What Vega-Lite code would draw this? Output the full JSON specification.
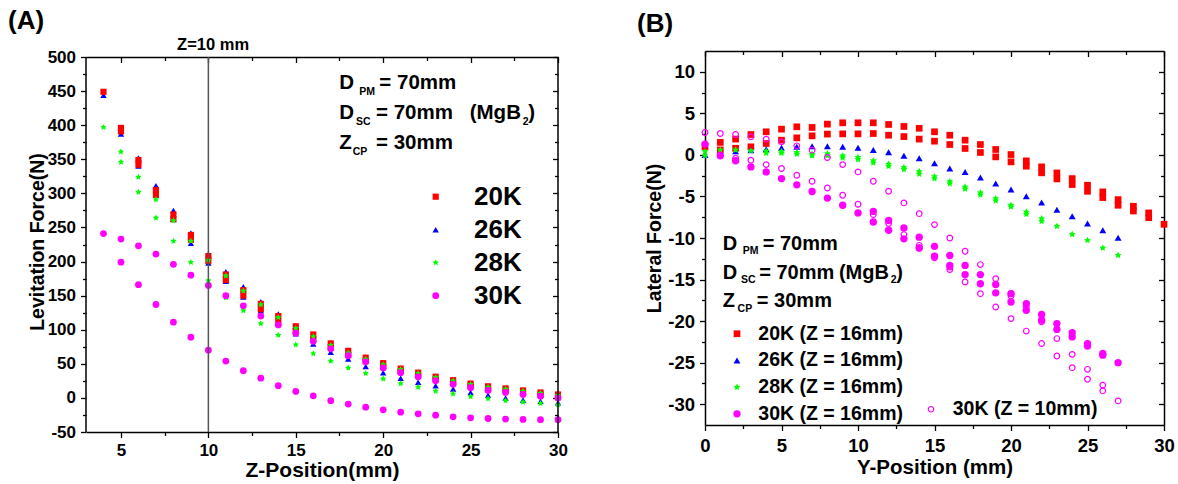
{
"$schema": "https://vega.github.io/schema/vega-lite/v6.json",
"background": "white",
"padding": {"left": 8, "top": 7, "right": 0, "bottom": 0},
"config": {
  "view": {"stroke": null},
  "font": "Liberation Sans",
  "axis": {"grid": false, "domainColor": "#000", "domainWidth": 1.5, "tickColor": "#000", "tickWidth": 1.3, "labelFont": "Liberation Sans", "labelFontWeight": "bold", "labelColor": "#000", "titleFont": "Liberation Sans", "titleFontWeight": "bold", "titleColor": "#000", "labelFlush": false, "labelOverlap": false},
  "legend": {"padding": 0, "labelFont": "Liberation Sans", "labelFontWeight": "bold", "labelColor": "#000", "labelLimit": 0},
  "title": {"font": "Liberation Sans", "fontSize": 26, "fontWeight": "bold", "color": "#000", "anchor": "start", "frame": "group"}
},
"datasets": {
  "A": [
    {"z":4,"F":444,"T":"26K"},{"z":5,"F":396,"T":"26K"},{"z":5,"F":387,"T":"26K"},{"z":6,"F":352,"T":"26K"},{"z":6,"F":340,"T":"26K"},{"z":7,"F":311,"T":"26K"},{"z":7,"F":298,"T":"26K"},{"z":8,"F":275,"T":"26K"},{"z":8,"F":262,"T":"26K"},{"z":9,"F":242,"T":"26K"},{"z":9,"F":227,"T":"26K"},{"z":10,"F":211,"T":"26K"},{"z":10,"F":198,"T":"26K"},{"z":11,"F":185,"T":"26K"},{"z":11,"F":171,"T":"26K"},{"z":12,"F":163,"T":"26K"},{"z":12,"F":148,"T":"26K"},{"z":13,"F":141,"T":"26K"},{"z":13,"F":128,"T":"26K"},{"z":14,"F":123,"T":"26K"},{"z":14,"F":110,"T":"26K"},{"z":15,"F":106,"T":"26K"},{"z":15,"F":94,"T":"26K"},{"z":16,"F":91,"T":"26K"},{"z":16,"F":79,"T":"26K"},{"z":17,"F":80,"T":"26K"},{"z":17,"F":67,"T":"26K"},{"z":18,"F":70,"T":"26K"},{"z":18,"F":57,"T":"26K"},{"z":19,"F":60,"T":"26K"},{"z":19,"F":46,"T":"26K"},{"z":20,"F":51,"T":"26K"},{"z":20,"F":37,"T":"26K"},{"z":21,"F":44,"T":"26K"},{"z":21,"F":29,"T":"26K"},{"z":22,"F":38,"T":"26K"},{"z":22,"F":23,"T":"26K"},{"z":23,"F":32,"T":"26K"},{"z":23,"F":18,"T":"26K"},{"z":24,"F":27,"T":"26K"},{"z":24,"F":13,"T":"26K"},{"z":25,"F":22,"T":"26K"},{"z":25,"F":8,"T":"26K"},{"z":26,"F":18,"T":"26K"},{"z":26,"F":4,"T":"26K"},{"z":27,"F":14,"T":"26K"},{"z":27,"F":0,"T":"26K"},{"z":28,"F":11,"T":"26K"},{"z":28,"F":-3,"T":"26K"},{"z":29,"F":8,"T":"26K"},{"z":29,"F":-5,"T":"26K"},{"z":30,"F":5,"T":"26K"},{"z":30,"F":-7,"T":"26K"},
    {"z":4,"F":449,"T":"20K"},{"z":5,"F":396,"T":"20K"},{"z":5,"F":391,"T":"20K"},{"z":6,"F":349,"T":"20K"},{"z":6,"F":342,"T":"20K"},{"z":7,"F":305,"T":"20K"},{"z":7,"F":298,"T":"20K"},{"z":8,"F":269,"T":"20K"},{"z":8,"F":262,"T":"20K"},{"z":9,"F":239,"T":"20K"},{"z":9,"F":232,"T":"20K"},{"z":10,"F":208,"T":"20K"},{"z":10,"F":201,"T":"20K"},{"z":11,"F":181,"T":"20K"},{"z":11,"F":173,"T":"20K"},{"z":12,"F":158,"T":"20K"},{"z":12,"F":150,"T":"20K"},{"z":13,"F":138,"T":"20K"},{"z":13,"F":130,"T":"20K"},{"z":14,"F":120,"T":"20K"},{"z":14,"F":112,"T":"20K"},{"z":15,"F":105,"T":"20K"},{"z":15,"F":98,"T":"20K"},{"z":16,"F":93,"T":"20K"},{"z":16,"F":86,"T":"20K"},{"z":17,"F":80,"T":"20K"},{"z":17,"F":74,"T":"20K"},{"z":18,"F":69,"T":"20K"},{"z":18,"F":63,"T":"20K"},{"z":19,"F":59,"T":"20K"},{"z":19,"F":54,"T":"20K"},{"z":20,"F":51,"T":"20K"},{"z":20,"F":46,"T":"20K"},{"z":21,"F":43,"T":"20K"},{"z":21,"F":39,"T":"20K"},{"z":22,"F":37,"T":"20K"},{"z":22,"F":33,"T":"20K"},{"z":23,"F":31,"T":"20K"},{"z":23,"F":27,"T":"20K"},{"z":24,"F":26,"T":"20K"},{"z":24,"F":22,"T":"20K"},{"z":25,"F":21,"T":"20K"},{"z":25,"F":18,"T":"20K"},{"z":26,"F":17,"T":"20K"},{"z":26,"F":14,"T":"20K"},{"z":27,"F":14,"T":"20K"},{"z":27,"F":11,"T":"20K"},{"z":28,"F":11,"T":"20K"},{"z":28,"F":8,"T":"20K"},{"z":29,"F":8,"T":"20K"},{"z":29,"F":5,"T":"20K"},{"z":30,"F":5,"T":"20K"},{"z":30,"F":1,"T":"20K"},
    {"z":4,"F":397,"T":"28K"},{"z":5,"F":361,"T":"28K"},{"z":5,"F":346,"T":"28K"},{"z":6,"F":324,"T":"28K"},{"z":6,"F":302,"T":"28K"},{"z":7,"F":291,"T":"28K"},{"z":7,"F":264,"T":"28K"},{"z":8,"F":260,"T":"28K"},{"z":8,"F":230,"T":"28K"},{"z":9,"F":230,"T":"28K"},{"z":9,"F":199,"T":"28K"},{"z":10,"F":202,"T":"28K"},{"z":10,"F":172,"T":"28K"},{"z":11,"F":179,"T":"28K"},{"z":11,"F":147,"T":"28K"},{"z":12,"F":157,"T":"28K"},{"z":12,"F":128,"T":"28K"},{"z":13,"F":137,"T":"28K"},{"z":13,"F":109,"T":"28K"},{"z":14,"F":118,"T":"28K"},{"z":14,"F":92,"T":"28K"},{"z":15,"F":102,"T":"28K"},{"z":15,"F":78,"T":"28K"},{"z":16,"F":90,"T":"28K"},{"z":16,"F":65,"T":"28K"},{"z":17,"F":77,"T":"28K"},{"z":17,"F":54,"T":"28K"},{"z":18,"F":66,"T":"28K"},{"z":18,"F":44,"T":"28K"},{"z":19,"F":57,"T":"28K"},{"z":19,"F":36,"T":"28K"},{"z":20,"F":49,"T":"28K"},{"z":20,"F":28,"T":"28K"},{"z":21,"F":42,"T":"28K"},{"z":21,"F":21,"T":"28K"},{"z":22,"F":36,"T":"28K"},{"z":22,"F":16,"T":"28K"},{"z":23,"F":30,"T":"28K"},{"z":23,"F":10,"T":"28K"},{"z":24,"F":25,"T":"28K"},{"z":24,"F":6,"T":"28K"},{"z":25,"F":20,"T":"28K"},{"z":25,"F":2,"T":"28K"},{"z":26,"F":16,"T":"28K"},{"z":26,"F":-1,"T":"28K"},{"z":27,"F":13,"T":"28K"},{"z":27,"F":-4,"T":"28K"},{"z":28,"F":10,"T":"28K"},{"z":28,"F":-6,"T":"28K"},{"z":29,"F":7,"T":"28K"},{"z":29,"F":-8,"T":"28K"},{"z":30,"F":4,"T":"28K"},{"z":30,"F":-10,"T":"28K"},
    {"z":4,"F":241,"T":"30K"},{"z":5,"F":233,"T":"30K"},{"z":6,"F":223,"T":"30K"},{"z":7,"F":211,"T":"30K"},{"z":8,"F":196,"T":"30K"},{"z":9,"F":180,"T":"30K"},{"z":10,"F":165,"T":"30K"},{"z":11,"F":150,"T":"30K"},{"z":12,"F":135,"T":"30K"},{"z":13,"F":120,"T":"30K"},{"z":14,"F":107,"T":"30K"},{"z":15,"F":95,"T":"30K"},{"z":16,"F":83,"T":"30K"},{"z":17,"F":72,"T":"30K"},{"z":18,"F":62,"T":"30K"},{"z":19,"F":53,"T":"30K"},{"z":20,"F":44,"T":"30K"},{"z":21,"F":37,"T":"30K"},{"z":22,"F":31,"T":"30K"},{"z":23,"F":25,"T":"30K"},{"z":24,"F":20,"T":"30K"},{"z":25,"F":15,"T":"30K"},{"z":26,"F":11,"T":"30K"},{"z":27,"F":8,"T":"30K"},{"z":28,"F":5,"T":"30K"},{"z":29,"F":2.5,"T":"30K"},{"z":30,"F":0,"T":"30K"},
    {"z":5,"F":199,"T":"30K"},{"z":6,"F":166,"T":"30K"},{"z":7,"F":137,"T":"30K"},{"z":8,"F":111,"T":"30K"},{"z":9,"F":89,"T":"30K"},{"z":10,"F":70,"T":"30K"},{"z":11,"F":54,"T":"30K"},{"z":12,"F":40,"T":"30K"},{"z":13,"F":29,"T":"30K"},{"z":14,"F":18,"T":"30K"},{"z":15,"F":9.5,"T":"30K"},{"z":16,"F":3,"T":"30K"},{"z":17,"F":-4,"T":"30K"},{"z":18,"F":-9,"T":"30K"},{"z":19,"F":-13.6,"T":"30K"},{"z":20,"F":-17.5,"T":"30K"},{"z":21,"F":-21,"T":"30K"},{"z":22,"F":-23.4,"T":"30K"},{"z":23,"F":-25.3,"T":"30K"},{"z":24,"F":-27.7,"T":"30K"},{"z":25,"F":-29.2,"T":"30K"},{"z":26,"F":-30.2,"T":"30K"},{"z":27,"F":-31,"T":"30K"},{"z":28,"F":-31.6,"T":"30K"},{"z":29,"F":-32,"T":"30K"},{"z":30,"F":-32,"T":"30K"}
  ],
  "B": [
    {"p":0,"f":1.0,"S":"20K (Z = 16mm)"},{"p":1,"f":1.5,"S":"20K (Z = 16mm)"},{"p":2,"f":1.9,"S":"20K (Z = 16mm)"},{"p":3,"f":2.45,"S":"20K (Z = 16mm)"},{"p":4,"f":2.78,"S":"20K (Z = 16mm)"},{"p":5,"f":3.1,"S":"20K (Z = 16mm)"},{"p":6,"f":3.38,"S":"20K (Z = 16mm)"},{"p":7,"f":3.3,"S":"20K (Z = 16mm)"},{"p":8,"f":3.7,"S":"20K (Z = 16mm)"},{"p":9,"f":3.86,"S":"20K (Z = 16mm)"},{"p":10,"f":3.86,"S":"20K (Z = 16mm)"},{"p":11,"f":3.86,"S":"20K (Z = 16mm)"},{"p":12,"f":3.66,"S":"20K (Z = 16mm)"},{"p":13,"f":3.42,"S":"20K (Z = 16mm)"},{"p":14,"f":3.2,"S":"20K (Z = 16mm)"},{"p":15,"f":2.78,"S":"20K (Z = 16mm)"},{"p":16,"f":2.37,"S":"20K (Z = 16mm)"},{"p":17,"f":1.77,"S":"20K (Z = 16mm)"},{"p":18,"f":1.25,"S":"20K (Z = 16mm)"},{"p":19,"f":0.65,"S":"20K (Z = 16mm)"},{"p":20,"f":0.04,"S":"20K (Z = 16mm)"},{"p":21,"f":-0.72,"S":"20K (Z = 16mm)"},{"p":22,"f":-1.44,"S":"20K (Z = 16mm)"},{"p":23,"f":-2.17,"S":"20K (Z = 16mm)"},{"p":24,"f":-2.85,"S":"20K (Z = 16mm)"},{"p":25,"f":-3.65,"S":"20K (Z = 16mm)"},{"p":26,"f":-4.45,"S":"20K (Z = 16mm)"},{"p":27,"f":-5.38,"S":"20K (Z = 16mm)"},{"p":28,"f":-6.18,"S":"20K (Z = 16mm)"},{"p":29,"f":-6.98,"S":"20K (Z = 16mm)"},{"p":30,"f":-8.35,"S":"20K (Z = 16mm)"},
    {"p":1,"f":0.6,"S":"20K (Z = 16mm)"},{"p":2,"f":0.8,"S":"20K (Z = 16mm)"},{"p":3,"f":0.97,"S":"20K (Z = 16mm)"},{"p":4,"f":1.37,"S":"20K (Z = 16mm)"},{"p":5,"f":1.77,"S":"20K (Z = 16mm)"},{"p":6,"f":2.05,"S":"20K (Z = 16mm)"},{"p":7,"f":2.29,"S":"20K (Z = 16mm)"},{"p":8,"f":2.5,"S":"20K (Z = 16mm)"},{"p":9,"f":2.53,"S":"20K (Z = 16mm)"},{"p":10,"f":2.53,"S":"20K (Z = 16mm)"},{"p":11,"f":2.57,"S":"20K (Z = 16mm)"},{"p":12,"f":2.37,"S":"20K (Z = 16mm)"},{"p":13,"f":2.2,"S":"20K (Z = 16mm)"},{"p":14,"f":1.9,"S":"20K (Z = 16mm)"},{"p":15,"f":1.65,"S":"20K (Z = 16mm)"},{"p":16,"f":1.25,"S":"20K (Z = 16mm)"},{"p":17,"f":0.77,"S":"20K (Z = 16mm)"},{"p":18,"f":0.29,"S":"20K (Z = 16mm)"},{"p":19,"f":-0.24,"S":"20K (Z = 16mm)"},{"p":20,"f":-0.84,"S":"20K (Z = 16mm)"},{"p":21,"f":-1.36,"S":"20K (Z = 16mm)"},{"p":22,"f":-2.16,"S":"20K (Z = 16mm)"},{"p":23,"f":-2.89,"S":"20K (Z = 16mm)"},{"p":24,"f":-3.57,"S":"20K (Z = 16mm)"},{"p":25,"f":-4.38,"S":"20K (Z = 16mm)"},{"p":26,"f":-5.14,"S":"20K (Z = 16mm)"},{"p":27,"f":-6.06,"S":"20K (Z = 16mm)"},{"p":28,"f":-6.75,"S":"20K (Z = 16mm)"},{"p":29,"f":-7.55,"S":"20K (Z = 16mm)"},
    {"p":0,"f":0.0,"S":"26K (Z = 16mm)"},{"p":1,"f":0.16,"S":"26K (Z = 16mm)"},{"p":2,"f":0.45,"S":"26K (Z = 16mm)"},{"p":3,"f":0.57,"S":"26K (Z = 16mm)"},{"p":4,"f":0.69,"S":"26K (Z = 16mm)"},{"p":5,"f":0.85,"S":"26K (Z = 16mm)"},{"p":6,"f":0.97,"S":"26K (Z = 16mm)"},{"p":7,"f":1.05,"S":"26K (Z = 16mm)"},{"p":8,"f":1.05,"S":"26K (Z = 16mm)"},{"p":9,"f":0.97,"S":"26K (Z = 16mm)"},{"p":10,"f":0.85,"S":"26K (Z = 16mm)"},{"p":11,"f":0.6,"S":"26K (Z = 16mm)"},{"p":12,"f":0.33,"S":"26K (Z = 16mm)"},{"p":13,"f":-0.1,"S":"26K (Z = 16mm)"},{"p":14,"f":-0.4,"S":"26K (Z = 16mm)"},{"p":15,"f":-1.0,"S":"26K (Z = 16mm)"},{"p":16,"f":-1.64,"S":"26K (Z = 16mm)"},{"p":17,"f":-2.05,"S":"26K (Z = 16mm)"},{"p":18,"f":-2.73,"S":"26K (Z = 16mm)"},{"p":19,"f":-3.45,"S":"26K (Z = 16mm)"},{"p":20,"f":-4.17,"S":"26K (Z = 16mm)"},{"p":21,"f":-4.98,"S":"26K (Z = 16mm)"},{"p":22,"f":-5.74,"S":"26K (Z = 16mm)"},{"p":23,"f":-6.59,"S":"26K (Z = 16mm)"},{"p":24,"f":-7.39,"S":"26K (Z = 16mm)"},{"p":25,"f":-8.27,"S":"26K (Z = 16mm)"},{"p":26,"f":-9.07,"S":"26K (Z = 16mm)"},{"p":27,"f":-9.96,"S":"26K (Z = 16mm)"},
    {"p":0,"f":0.4,"S":"28K (Z = 16mm)"},{"p":0,"f":-0.1,"S":"28K (Z = 16mm)"},{"p":1,"f":0.6,"S":"28K (Z = 16mm)"},{"p":2,"f":0.6,"S":"28K (Z = 16mm)"},{"p":3,"f":0.5,"S":"28K (Z = 16mm)"},{"p":4,"f":0.45,"S":"28K (Z = 16mm)"},{"p":4,"f":0.2,"S":"28K (Z = 16mm)"},{"p":5,"f":0.4,"S":"28K (Z = 16mm)"},{"p":5,"f":0.2,"S":"28K (Z = 16mm)"},{"p":6,"f":0.3,"S":"28K (Z = 16mm)"},{"p":6,"f":0.1,"S":"28K (Z = 16mm)"},{"p":7,"f":0.1,"S":"28K (Z = 16mm)"},{"p":7,"f":-0.1,"S":"28K (Z = 16mm)"},{"p":8,"f":0.15,"S":"28K (Z = 16mm)"},{"p":8,"f":-0.1,"S":"28K (Z = 16mm)"},{"p":9,"f":-0.1,"S":"28K (Z = 16mm)"},{"p":9,"f":-0.35,"S":"28K (Z = 16mm)"},{"p":10,"f":-0.3,"S":"28K (Z = 16mm)"},{"p":10,"f":-0.55,"S":"28K (Z = 16mm)"},{"p":11,"f":-0.7,"S":"28K (Z = 16mm)"},{"p":11,"f":-0.95,"S":"28K (Z = 16mm)"},{"p":12,"f":-1.1,"S":"28K (Z = 16mm)"},{"p":12,"f":-1.35,"S":"28K (Z = 16mm)"},{"p":13,"f":-1.5,"S":"28K (Z = 16mm)"},{"p":13,"f":-1.75,"S":"28K (Z = 16mm)"},{"p":14,"f":-2.0,"S":"28K (Z = 16mm)"},{"p":14,"f":-2.3,"S":"28K (Z = 16mm)"},{"p":15,"f":-2.6,"S":"28K (Z = 16mm)"},{"p":15,"f":-2.85,"S":"28K (Z = 16mm)"},{"p":16,"f":-3.2,"S":"28K (Z = 16mm)"},{"p":16,"f":-3.45,"S":"28K (Z = 16mm)"},{"p":17,"f":-3.85,"S":"28K (Z = 16mm)"},{"p":17,"f":-4.1,"S":"28K (Z = 16mm)"},{"p":18,"f":-4.55,"S":"28K (Z = 16mm)"},{"p":18,"f":-4.8,"S":"28K (Z = 16mm)"},{"p":19,"f":-5.25,"S":"28K (Z = 16mm)"},{"p":19,"f":-5.5,"S":"28K (Z = 16mm)"},{"p":20,"f":-6.05,"S":"28K (Z = 16mm)"},{"p":20,"f":-6.25,"S":"28K (Z = 16mm)"},{"p":21,"f":-6.86,"S":"28K (Z = 16mm)"},{"p":21,"f":-7.14,"S":"28K (Z = 16mm)"},{"p":22,"f":-7.67,"S":"28K (Z = 16mm)"},{"p":22,"f":-7.99,"S":"28K (Z = 16mm)"},{"p":23,"f":-8.59,"S":"28K (Z = 16mm)"},{"p":24,"f":-9.55,"S":"28K (Z = 16mm)"},{"p":25,"f":-10.28,"S":"28K (Z = 16mm)"},{"p":26,"f":-11.2,"S":"28K (Z = 16mm)"},{"p":27,"f":-12.08,"S":"28K (Z = 16mm)"},
    {"p":0,"f":1.3,"S":"30K (Z = 16mm)"},{"p":1,"f":-0.1,"S":"30K (Z = 16mm)"},{"p":2,"f":-0.7,"S":"30K (Z = 16mm)"},{"p":3,"f":-1.45,"S":"30K (Z = 16mm)"},{"p":4,"f":-2.05,"S":"30K (Z = 16mm)"},{"p":5,"f":-2.85,"S":"30K (Z = 16mm)"},{"p":6,"f":-3.6,"S":"30K (Z = 16mm)"},{"p":7,"f":-4.4,"S":"30K (Z = 16mm)"},{"p":8,"f":-5.2,"S":"30K (Z = 16mm)"},{"p":9,"f":-6.06,"S":"30K (Z = 16mm)"},{"p":10,"f":-6.98,"S":"30K (Z = 16mm)"},{"p":11,"f":-8.07,"S":"30K (Z = 16mm)"},{"p":12,"f":-9.07,"S":"30K (Z = 16mm)"},{"p":13,"f":-10.1,"S":"30K (Z = 16mm)"},{"p":14,"f":-11.2,"S":"30K (Z = 16mm)"},{"p":15,"f":-12.2,"S":"30K (Z = 16mm)"},{"p":16,"f":-13.3,"S":"30K (Z = 16mm)"},{"p":17,"f":-14.4,"S":"30K (Z = 16mm)"},{"p":18,"f":-15.5,"S":"30K (Z = 16mm)"},{"p":19,"f":-16.6,"S":"30K (Z = 16mm)"},{"p":20,"f":-17.7,"S":"30K (Z = 16mm)"},{"p":21,"f":-18.7,"S":"30K (Z = 16mm)"},{"p":22,"f":-19.9,"S":"30K (Z = 16mm)"},{"p":23,"f":-21.0,"S":"30K (Z = 16mm)"},{"p":24,"f":-21.9,"S":"30K (Z = 16mm)"},{"p":25,"f":-23.0,"S":"30K (Z = 16mm)"},{"p":26,"f":-24.1,"S":"30K (Z = 16mm)"},{"p":27,"f":-25.0,"S":"30K (Z = 16mm)"},
    {"p":11,"f":-6.8,"S":"30K (Z = 16mm)"},{"p":12,"f":-7.9,"S":"30K (Z = 16mm)"},{"p":13,"f":-8.8,"S":"30K (Z = 16mm)"},{"p":14,"f":-9.9,"S":"30K (Z = 16mm)"},{"p":15,"f":-11.0,"S":"30K (Z = 16mm)"},{"p":16,"f":-12.1,"S":"30K (Z = 16mm)"},{"p":17,"f":-13.3,"S":"30K (Z = 16mm)"},{"p":18,"f":-14.4,"S":"30K (Z = 16mm)"},{"p":19,"f":-15.6,"S":"30K (Z = 16mm)"},{"p":20,"f":-16.7,"S":"30K (Z = 16mm)"},{"p":21,"f":-17.9,"S":"30K (Z = 16mm)"},{"p":22,"f":-19.2,"S":"30K (Z = 16mm)"},{"p":23,"f":-20.3,"S":"30K (Z = 16mm)"},{"p":24,"f":-21.4,"S":"30K (Z = 16mm)"},{"p":25,"f":-22.7,"S":"30K (Z = 16mm)"},{"p":26,"f":-23.9,"S":"30K (Z = 16mm)"}
  ],
  "B2": [
    {"p":0,"f":2.69,"S":"30K (Z = 10mm)"},{"p":1,"f":2.57,"S":"30K (Z = 10mm)"},{"p":2,"f":2.45,"S":"30K (Z = 10mm)"},{"p":3,"f":2.17,"S":"30K (Z = 10mm)"},{"p":4,"f":1.89,"S":"30K (Z = 10mm)"},{"p":5,"f":1.57,"S":"30K (Z = 10mm)"},{"p":6,"f":1.09,"S":"30K (Z = 10mm)"},{"p":7,"f":0.57,"S":"30K (Z = 10mm)"},{"p":8,"f":-0.32,"S":"30K (Z = 10mm)"},{"p":9,"f":-1.17,"S":"30K (Z = 10mm)"},{"p":10,"f":-2.05,"S":"30K (Z = 10mm)"},{"p":11,"f":-3.17,"S":"30K (Z = 10mm)"},{"p":12,"f":-4.38,"S":"30K (Z = 10mm)"},{"p":13,"f":-5.78,"S":"30K (Z = 10mm)"},{"p":14,"f":-7.07,"S":"30K (Z = 10mm)"},{"p":15,"f":-8.39,"S":"30K (Z = 10mm)"},{"p":16,"f":-10.0,"S":"30K (Z = 10mm)"},{"p":17,"f":-11.6,"S":"30K (Z = 10mm)"},{"p":18,"f":-13.2,"S":"30K (Z = 10mm)"},{"p":19,"f":-14.9,"S":"30K (Z = 10mm)"},{"p":20,"f":-16.7,"S":"30K (Z = 10mm)"},{"p":21,"f":-18.3,"S":"30K (Z = 10mm)"},{"p":22,"f":-20.1,"S":"30K (Z = 10mm)"},{"p":23,"f":-22.1,"S":"30K (Z = 10mm)"},{"p":24,"f":-24.0,"S":"30K (Z = 10mm)"},{"p":25,"f":-25.8,"S":"30K (Z = 10mm)"},{"p":26,"f":-27.7,"S":"30K (Z = 10mm)"},{"p":27,"f":-29.6,"S":"30K (Z = 10mm)"},
    {"p":1,"f":0.0,"S":"30K (Z = 10mm)"},{"p":2,"f":-0.4,"S":"30K (Z = 10mm)"},{"p":3,"f":-0.64,"S":"30K (Z = 10mm)"},{"p":4,"f":-1.17,"S":"30K (Z = 10mm)"},{"p":5,"f":-1.64,"S":"30K (Z = 10mm)"},{"p":6,"f":-2.45,"S":"30K (Z = 10mm)"},{"p":7,"f":-3.17,"S":"30K (Z = 10mm)"},{"p":8,"f":-3.98,"S":"30K (Z = 10mm)"},{"p":9,"f":-4.86,"S":"30K (Z = 10mm)"},{"p":10,"f":-5.94,"S":"30K (Z = 10mm)"},{"p":11,"f":-7.19,"S":"30K (Z = 10mm)"},{"p":12,"f":-8.27,"S":"30K (Z = 10mm)"},{"p":13,"f":-9.59,"S":"30K (Z = 10mm)"},{"p":14,"f":-10.88,"S":"30K (Z = 10mm)"},{"p":15,"f":-12.2,"S":"30K (Z = 10mm)"},{"p":16,"f":-13.5,"S":"30K (Z = 10mm)"},{"p":17,"f":-15.3,"S":"30K (Z = 10mm)"},{"p":18,"f":-16.7,"S":"30K (Z = 10mm)"},{"p":19,"f":-18.3,"S":"30K (Z = 10mm)"},{"p":20,"f":-19.7,"S":"30K (Z = 10mm)"},{"p":21,"f":-21.2,"S":"30K (Z = 10mm)"},{"p":22,"f":-22.7,"S":"30K (Z = 10mm)"},{"p":23,"f":-24.2,"S":"30K (Z = 10mm)"},{"p":24,"f":-25.6,"S":"30K (Z = 10mm)"},{"p":25,"f":-27.0,"S":"30K (Z = 10mm)"},{"p":26,"f":-28.4,"S":"30K (Z = 10mm)"},
    {"p":14,"f":-11.2,"S":"30K (Z = 10mm)"},{"p":15,"f":-12.4,"S":"30K (Z = 10mm)"},{"p":16,"f":-13.8,"S":"30K (Z = 10mm)"},{"p":20,"f":-17.0,"S":"30K (Z = 10mm)"}
  ]
},
"spacing": 69,
"resolve": {"scale": {"color": "independent", "shape": "independent", "size": "independent"}},
"hconcat": [
  {
    "width": 472, "height": 381,
    "title": {"text": "(A)", "dx": -78, "offset": 3},
    "resolve": {"axis": {"x": "independent", "y": "independent"}},
    "layer": [
      {
        "data": {"name": "A"},
        "mark": {"type": "point", "filled": true, "opacity": 1, "strokeWidth": 0},
        "encoding": {
          "x": {"field": "z", "type": "quantitative", "scale": {"domain": [3, 30], "nice": false, "zero": false},
                "axis": {"orient": "bottom", "values": [5,7.5,10,12.5,15,17.5,20,22.5,25,27.5,30], "tickSize": {"condition": {"test": "datum.value % 5 === 0", "value": 5.5}, "value": 3.5}, "labelExpr": "datum.value % 5 === 0 ? '' + datum.value : ''", "labelFontSize": 17, "labelPadding": 5, "title": "Z-Position(mm)", "titleFontSize": 21, "titlePadding": 1}},
          "y": {"field": "F", "type": "quantitative", "scale": {"domain": [-50, 508.8], "nice": false, "zero": false},
                "axis": {"orient": "left", "domain": false, "values": [-50,-25,0,25,50,75,100,125,150,175,200,225,250,275,300,325,350,375,400,425,450,475,500], "tickSize": {"condition": {"test": "datum.value % 50 === 0", "value": 5.5}, "value": 3.5}, "labelExpr": "datum.value % 50 === 0 ? '' + datum.value : ''", "labelFontSize": 17, "labelPadding": 5, "title": "Levitation Force(N)", "titleFontSize": 19.5, "titlePadding": 0}},
          "color": {"field": "T", "type": "nominal", "scale": {"domain": ["20K","26K","28K","30K"], "range": ["#ff0000","#0000ff","#00ff00","#ff00ff"]},
                    "legend": {"orient": "none", "legendX": 336.7, "legendY": 132.7, "title": null, "labelFontSize": 26, "symbolSize": 34, "symbolStrokeWidth": 0, "labelOffset": 25.3, "rowPadding": 7}},
          "shape": {"field": "T", "type": "nominal", "scale": {"domain": ["20K","26K","28K","30K"], "range": ["square","triangle-up","M0,-1L0.294,-0.405L0.951,-0.309L0.476,0.155L0.588,0.809L0,0.5L-0.588,0.809L-0.476,0.155L-0.951,-0.309L-0.294,-0.405Z","circle"]},
                    "legend": {"orient": "none", "legendX": 336.7, "legendY": 132.7, "title": null, "labelFontSize": 26, "symbolSize": 34, "symbolStrokeWidth": 0, "labelOffset": 25.3, "rowPadding": 7}},
          "size": {"field": "T", "type": "ordinal", "scale": {"domain": ["20K","26K","28K","30K"], "range": [38, 46, 80, 38]}, "legend": null}
        }
      },
      {
        "data": {"name": "A"},
        "mark": {"type": "point", "opacity": 0},
        "encoding": {
          "x": {"field": "z", "type": "quantitative", "scale": {"domain": [3, 30], "nice": false, "zero": false},
                "axis": {"orient": "top", "offset": -6, "values": [5,7.5,10,12.5,15,17.5,20,22.5,25,27.5,30], "tickSize": {"condition": {"test": "datum.value % 5 === 0", "value": -5.5}, "value": -3.5}, "labels": false, "title": null}},
          "y": {"field": "F", "type": "quantitative", "scale": {"domain": [-50, 508.8], "nice": false, "zero": false},
                "axis": {"orient": "right", "domain": false, "values": [-50,-25,0,25,50,75,100,125,150,175,200,225,250,275,300,325,350,375,400,425,450,475,500], "tickSize": {"condition": {"test": "datum.value % 50 === 0", "value": -5.5}, "value": -3.5}, "labels": false, "title": null}}
        }
      },
      {
        "data": {"values": [{}]},
        "mark": {"type": "rule", "color": "#000", "strokeWidth": 1.5},
        "encoding": {"x": {"datum": 3, "type": "quantitative", "axis": null}, "y": {"datum": -50, "type": "quantitative", "axis": null}, "y2": {"datum": 500}}
      },
      {
        "data": {"values": [{}]},
        "mark": {"type": "rule", "color": "#000", "strokeWidth": 1.5},
        "encoding": {"x": {"datum": 30, "type": "quantitative", "axis": null}, "y": {"datum": -50, "type": "quantitative", "axis": null}, "y2": {"datum": 500}}
      },
      {
        "data": {"values": [{}]},
        "mark": {"type": "rule", "color": "#555555", "strokeWidth": 1.5},
        "encoding": {"x": {"datum": 10, "type": "quantitative", "axis": null}, "y": {"datum": -50, "type": "quantitative", "axis": null}, "y2": {"datum": 500}}
      },
      {
        "data": {"values": [{}]},
        "mark": {"type": "text", "text": "Z=10 mm", "fontSize": 16.5, "fontWeight": "bold", "align": "center", "baseline": "alphabetic", "color": "#000"},
        "encoding": {"x": {"datum": 10.27, "type": "quantitative", "axis": null}, "y": {"datum": 510.3, "type": "quantitative", "axis": null}}
      },
      {"data": {"values": [{}]}, "mark": {"type": "text", "text": "D", "fontSize": 20.5, "fontWeight": "bold", "align": "left", "baseline": "alphabetic", "color": "#000"},
       "encoding": {"x": {"datum": 17.49, "type": "quantitative", "axis": null}, "y": {"datum": 452.6, "type": "quantitative", "axis": null}}},
      {"data": {"values": [{}]}, "mark": {"type": "text", "text": "PM", "fontSize": 10.5, "fontWeight": "bold", "align": "left", "baseline": "alphabetic", "color": "#000"},
       "encoding": {"x": {"datum": 18.63, "type": "quantitative", "axis": null}, "y": {"datum": 444.7, "type": "quantitative", "axis": null}}},
      {"data": {"values": [{}]}, "mark": {"type": "text", "text": "= 70mm", "fontSize": 20.5, "fontWeight": "bold", "align": "left", "baseline": "alphabetic", "color": "#000"},
       "encoding": {"x": {"datum": 19.78, "type": "quantitative", "axis": null}, "y": {"datum": 452.6, "type": "quantitative", "axis": null}}},
      {"data": {"values": [{}]}, "mark": {"type": "text", "text": "D", "fontSize": 20.5, "fontWeight": "bold", "align": "left", "baseline": "alphabetic", "color": "#000"},
       "encoding": {"x": {"datum": 17.49, "type": "quantitative", "axis": null}, "y": {"datum": 408.7, "type": "quantitative", "axis": null}}},
      {"data": {"values": [{}]}, "mark": {"type": "text", "text": "SC", "fontSize": 10.5, "fontWeight": "bold", "align": "left", "baseline": "alphabetic", "color": "#000"},
       "encoding": {"x": {"datum": 18.45, "type": "quantitative", "axis": null}, "y": {"datum": 400.8, "type": "quantitative", "axis": null}}},
      {"data": {"values": [{}]}, "mark": {"type": "text", "text": "= 70mm", "fontSize": 20.5, "fontWeight": "bold", "align": "left", "baseline": "alphabetic", "color": "#000"},
       "encoding": {"x": {"datum": 19.59, "type": "quantitative", "axis": null}, "y": {"datum": 408.7, "type": "quantitative", "axis": null}}},
      {"data": {"values": [{}]}, "mark": {"type": "text", "text": "(MgB", "fontSize": 20.5, "fontWeight": "bold", "align": "left", "baseline": "alphabetic", "color": "#000"},
       "encoding": {"x": {"datum": 24.95, "type": "quantitative", "axis": null}, "y": {"datum": 408.7, "type": "quantitative", "axis": null}}},
      {"data": {"values": [{}]}, "mark": {"type": "text", "text": "2", "fontSize": 10.5, "fontWeight": "bold", "align": "left", "baseline": "alphabetic", "color": "#000"},
       "encoding": {"x": {"datum": 27.98, "type": "quantitative", "axis": null}, "y": {"datum": 400.8, "type": "quantitative", "axis": null}}},
      {"data": {"values": [{}]}, "mark": {"type": "text", "text": ")", "fontSize": 20.5, "fontWeight": "bold", "align": "left", "baseline": "alphabetic", "color": "#000"},
       "encoding": {"x": {"datum": 28.3, "type": "quantitative", "axis": null}, "y": {"datum": 408.7, "type": "quantitative", "axis": null}}},
      {"data": {"values": [{}]}, "mark": {"type": "text", "text": "Z", "fontSize": 20.5, "fontWeight": "bold", "align": "left", "baseline": "alphabetic", "color": "#000"},
       "encoding": {"x": {"datum": 17.49, "type": "quantitative", "axis": null}, "y": {"datum": 364.8, "type": "quantitative", "axis": null}}},
      {"data": {"values": [{}]}, "mark": {"type": "text", "text": "CP", "fontSize": 10.5, "fontWeight": "bold", "align": "left", "baseline": "alphabetic", "color": "#000"},
       "encoding": {"x": {"datum": 18.26, "type": "quantitative", "axis": null}, "y": {"datum": 356.9, "type": "quantitative", "axis": null}}},
      {"data": {"values": [{}]}, "mark": {"type": "text", "text": "= 30mm", "fontSize": 20.5, "fontWeight": "bold", "align": "left", "baseline": "alphabetic", "color": "#000"},
       "encoding": {"x": {"datum": 19.59, "type": "quantitative", "axis": null}, "y": {"datum": 364.8, "type": "quantitative", "axis": null}}}
    ]
  },
  {
    "width": 459, "height": 374,
    "title": {"text": "(B)", "dx": -68, "offset": 13},
    "resolve": {"axis": {"x": "independent", "y": "independent"}, "scale": {"color": "independent", "shape": "independent", "size": "independent"}},
    "layer": [
      {
        "data": {"name": "B"},
        "mark": {"type": "point", "filled": true, "opacity": 1, "strokeWidth": 0},
        "encoding": {
          "x": {"field": "p", "type": "quantitative", "scale": {"domain": [0, 30], "nice": false, "zero": false},
                "axis": {"orient": "bottom", "values": [0,2.5,5,7.5,10,12.5,15,17.5,20,22.5,25,27.5,30], "tickSize": {"condition": {"test": "datum.value % 5 === 0", "value": 5.5}, "value": 3.5}, "labelExpr": "datum.value % 5 === 0 ? '' + datum.value : ''", "labelFontSize": 18.5, "labelPadding": 6, "title": "Y-Position (mm)", "titleFontSize": 20.5, "titlePadding": 2}},
          "y": {"field": "f", "type": "quantitative", "scale": {"domain": [-32.5, 12.5], "nice": false, "zero": false},
                "axis": {"orient": "left", "values": [-30,-27.5,-25,-22.5,-20,-17.5,-15,-12.5,-10,-7.5,-5,-2.5,0,2.5,5,7.5,10], "tickSize": {"condition": {"test": "datum.value % 5 === 0", "value": 5.5}, "value": 3.5}, "labelExpr": "datum.value % 5 === 0 ? '' + datum.value : ''", "labelFontSize": 18.5, "labelPadding": 5, "title": "Lateral Force(N)", "titleFontSize": 19.5, "titlePadding": 3}},
          "color": {"field": "S", "type": "nominal", "scale": {"domain": ["20K (Z = 16mm)","26K (Z = 16mm)","28K (Z = 16mm)","30K (Z = 16mm)"], "range": ["#ff0000","#0000ff","#00ff00","#ff00ff"]},
                    "legend": {"orient": "none", "legendX": 22.25, "legendY": 273, "title": null, "labelFontSize": 19.5, "symbolSize": 34, "symbolStrokeWidth": 0, "labelOffset": 11.55, "rowPadding": 5.7}},
          "shape": {"field": "S", "type": "nominal", "scale": {"domain": ["20K (Z = 16mm)","26K (Z = 16mm)","28K (Z = 16mm)","30K (Z = 16mm)"], "range": ["square","triangle-up","M0,-1L0.294,-0.405L0.951,-0.309L0.476,0.155L0.588,0.809L0,0.5L-0.588,0.809L-0.476,0.155L-0.951,-0.309L-0.294,-0.405Z","circle"]},
                    "legend": {"orient": "none", "legendX": 22.25, "legendY": 273, "title": null, "labelFontSize": 19.5, "symbolSize": 34, "symbolStrokeWidth": 0, "labelOffset": 11.55, "rowPadding": 5.7}},
          "size": {"field": "S", "type": "ordinal", "scale": {"domain": ["20K (Z = 16mm)","26K (Z = 16mm)","28K (Z = 16mm)","30K (Z = 16mm)"], "range": [45, 54, 90, 40]}, "legend": null}
        }
      },
      {
        "data": {"name": "B2"},
        "mark": {"type": "point", "filled": false, "opacity": 1, "strokeWidth": 1.2, "size": 32},
        "encoding": {
          "x": {"field": "p", "type": "quantitative", "axis": null},
          "y": {"field": "f", "type": "quantitative", "axis": null},
          "color": {"field": "S", "type": "nominal", "scale": {"domain": ["30K (Z = 10mm)"], "range": ["#ff00ff"]},
                    "legend": {"orient": "none", "legendX": 216.25, "legendY": 348.5, "title": null, "labelFontSize": 19.5, "symbolSize": 30, "symbolStrokeWidth": 1.2, "labelOffset": 12}}
        }
      },
      {
        "data": {"name": "B"},
        "mark": {"type": "point", "opacity": 0},
        "encoding": {
          "x": {"field": "p", "type": "quantitative", "scale": {"domain": [0, 30], "nice": false, "zero": false},
                "axis": {"orient": "top", "values": [0,2.5,5,7.5,10,12.5,15,17.5,20,22.5,25,27.5,30], "tickSize": {"condition": {"test": "datum.value % 5 === 0", "value": -5.5}, "value": -3.5}, "labels": false, "title": null}},
          "y": {"field": "f", "type": "quantitative", "scale": {"domain": [-32.5, 12.5], "nice": false, "zero": false},
                "axis": {"orient": "right", "values": [-30,-27.5,-25,-22.5,-20,-17.5,-15,-12.5,-10,-7.5,-5,-2.5,0,2.5,5,7.5,10], "tickSize": {"condition": {"test": "datum.value % 5 === 0", "value": -5.5}, "value": -3.5}, "labels": false, "title": null}}
        }
      },
      {"data": {"values": [{}]}, "mark": {"type": "text", "text": "D", "fontSize": 20, "fontWeight": "bold", "align": "left", "baseline": "alphabetic", "color": "#000"},
       "encoding": {"x": {"datum": 1.155, "type": "quantitative", "axis": null}, "y": {"datum": -11.48, "type": "quantitative", "axis": null}}},
      {"data": {"values": [{}]}, "mark": {"type": "text", "text": "PM", "fontSize": 10.5, "fontWeight": "bold", "align": "left", "baseline": "alphabetic", "color": "#000"},
       "encoding": {"x": {"datum": 2.46, "type": "quantitative", "axis": null}, "y": {"datum": -11.88, "type": "quantitative", "axis": null}}},
      {"data": {"values": [{}]}, "mark": {"type": "text", "text": "= 70mm", "fontSize": 20, "fontWeight": "bold", "align": "left", "baseline": "alphabetic", "color": "#000"},
       "encoding": {"x": {"datum": 3.77, "type": "quantitative", "axis": null}, "y": {"datum": -11.48, "type": "quantitative", "axis": null}}},
      {"data": {"values": [{}]}, "mark": {"type": "text", "text": "D", "fontSize": 20, "fontWeight": "bold", "align": "left", "baseline": "alphabetic", "color": "#000"},
       "encoding": {"x": {"datum": 1.155, "type": "quantitative", "axis": null}, "y": {"datum": -14.89, "type": "quantitative", "axis": null}}},
      {"data": {"values": [{}]}, "mark": {"type": "text", "text": "SC", "fontSize": 10.5, "fontWeight": "bold", "align": "left", "baseline": "alphabetic", "color": "#000"},
       "encoding": {"x": {"datum": 2.35, "type": "quantitative", "axis": null}, "y": {"datum": -15.37, "type": "quantitative", "axis": null}}},
      {"data": {"values": [{}]}, "mark": {"type": "text", "text": "= 70mm", "fontSize": 20, "fontWeight": "bold", "align": "left", "baseline": "alphabetic", "color": "#000"},
       "encoding": {"x": {"datum": 3.54, "type": "quantitative", "axis": null}, "y": {"datum": -14.89, "type": "quantitative", "axis": null}}},
      {"data": {"values": [{}]}, "mark": {"type": "text", "text": "(MgB", "fontSize": 20, "fontWeight": "bold", "align": "left", "baseline": "alphabetic", "color": "#000"},
       "encoding": {"x": {"datum": 8.75, "type": "quantitative", "axis": null}, "y": {"datum": -14.89, "type": "quantitative", "axis": null}}},
      {"data": {"values": [{}]}, "mark": {"type": "text", "text": "2", "fontSize": 10.5, "fontWeight": "bold", "align": "left", "baseline": "alphabetic", "color": "#000"},
       "encoding": {"x": {"datum": 12.14, "type": "quantitative", "axis": null}, "y": {"datum": -15.37, "type": "quantitative", "axis": null}}},
      {"data": {"values": [{}]}, "mark": {"type": "text", "text": ")", "fontSize": 20, "fontWeight": "bold", "align": "left", "baseline": "alphabetic", "color": "#000"},
       "encoding": {"x": {"datum": 12.5, "type": "quantitative", "axis": null}, "y": {"datum": -14.89, "type": "quantitative", "axis": null}}},
      {"data": {"values": [{}]}, "mark": {"type": "text", "text": "Z", "fontSize": 20, "fontWeight": "bold", "align": "left", "baseline": "alphabetic", "color": "#000"},
       "encoding": {"x": {"datum": 1.155, "type": "quantitative", "axis": null}, "y": {"datum": -18.31, "type": "quantitative", "axis": null}}},
      {"data": {"values": [{}]}, "mark": {"type": "text", "text": "CP", "fontSize": 10.5, "fontWeight": "bold", "align": "left", "baseline": "alphabetic", "color": "#000"},
       "encoding": {"x": {"datum": 2.13, "type": "quantitative", "axis": null}, "y": {"datum": -18.92, "type": "quantitative", "axis": null}}},
      {"data": {"values": [{}]}, "mark": {"type": "text", "text": "= 30mm", "fontSize": 20, "fontWeight": "bold", "align": "left", "baseline": "alphabetic", "color": "#000"},
       "encoding": {"x": {"datum": 3.39, "type": "quantitative", "axis": null}, "y": {"datum": -18.31, "type": "quantitative", "axis": null}}}
    ]
  }
]
}
